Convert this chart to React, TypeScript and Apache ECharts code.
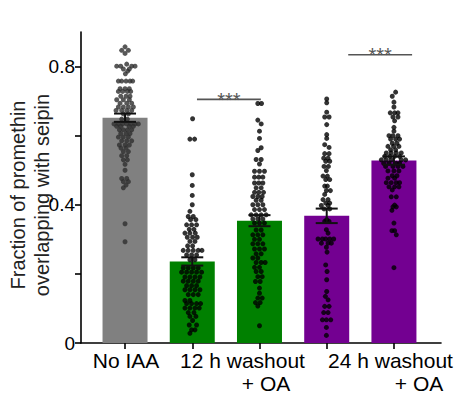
import { useEffect, useRef } from "react";
import * as echarts from "echarts";

// ---------- data ----------
const groups = ["No IAA", "12 h washout", "12 h washout + OA", "24 h washout", "24 h washout + OA"];
const barMeans = [0.652, 0.236, 0.354, 0.368, 0.528];
const barSem = [0.012, 0.012, 0.016, 0.021, 0.012];
const barColors = ["#808080", "#008000", "#008000", "#730091", "#730091"];
const dotColors = ["#2e2e2e", "#000000", "#000000", "#000000", "#000000"];

const yTickValues = [0, 0.2, 0.4, 0.6, 0.8];
const yLabelValues = [0, 0.4, 0.8];
const yTitle = "Fraction of promethin\noverlapping with seipin";
const xLabelTexts = ["No IAA", "12 h washout", "+ OA", "24 h washout", "+ OA"];

// significance brackets: [xStart, xEnd, y]
const brackets = [
  [1.07, 2.02, 0.705],
  [3.32, 4.27, 0.834],
];
const bracketText = "***";

// rows: [value, ...offsets (category units)]
const dotsNoIAA: number[][] = [
  [0.857, 0], [0.847, -0.05, 0.05], [0.838, 0], [0.807, 0.025],
  [0.801, -0.124, -0.064, 0.099, 0.149], [0.793, -0.025, 0.064], [0.787, 0.04], [0.779, 0.005],
  [0.758, -0.099, -0.05, 0.015, 0.074, 0.114], [0.736, -0.074, 0, 0.064],
  [0.728, -0.099, -0.035, 0.035, 0.084], [0.714, -0.064, 0.015, 0.074],
  [0.704, -0.124, -0.025, 0.064], [0.694, -0.074, 0.025, 0.099],
  [0.683, -0.099, -0.025, 0.05, 0.124], [0.673, -0.134, -0.05, 0.025, 0.099],
  [0.663, -0.025, 0.05], [0.648, -0.05, 0.035],
  [0.634, -0.164, -0.099, -0.035, 0.025, 0.084, 0.149, 0.198],
  [0.627, -0.124, -0.064, 0.064, 0.124], [0.617, -0.084, -0.025, 0.035, 0.099],
  [0.606, -0.064, 0.015, 0.074], [0.596, -0.099, -0.025, 0.05], [0.585, -0.05, 0.025, 0.099],
  [0.573, -0.084, 0, 0.064], [0.564, -0.06, 0.015], [0.554, -0.025, 0.05],
  [0.542, -0.05, 0.025], [0.53, -0.025, 0.035], [0.517, 0], [0.5, 0],
  [0.476, -0.05, 0.025], [0.467, -0.025, 0.05], [0.457, 0.015], [0.449, -0.025],
  [0.345, 0], [0.293, 0],
];
const dots12h: number[][] = [
  [0.649, 0.005], [0.59, -0.035, 0.035], [0.487, 0], [0.456, 0], [0.427, 0], [0.4, 0],
  [0.381, -0.035], [0.366, -0.06, 0.015], [0.357, -0.025, 0.054],
  [0.342, -0.084, -0.01, 0.064], [0.329, -0.045, 0.025], [0.318, -0.109, -0.035, 0.045],
  [0.306, -0.074, 0.005, 0.074], [0.294, -0.035, 0.04], [0.281, -0.069, 0.005],
  [0.268, -0.134, -0.06, 0.015, 0.089, 0.144], [0.255, -0.084, -0.01, 0.064],
  [0.241, -0.035, 0.04], [0.217, -0.134, -0.06, 0.015, 0.089],
  [0.205, -0.159, -0.084, -0.01, 0.064, 0.139], [0.191, -0.109, -0.035, 0.04, 0.114],
  [0.179, -0.134, -0.06, 0.015, 0.089], [0.166, -0.084, -0.01, 0.064],
  [0.154, -0.109, -0.035, 0.04, 0.114], [0.14, -0.06, 0.015, 0.089],
  [0.123, -0.109, -0.035], [0.114, -0.084, -0.01, 0.064, 0.124],
  [0.101, -0.109, -0.035, 0.04, 0.104], [0.088, -0.06, 0.025], [0.077, -0.035, 0.054],
  [0.065, 0.005], [0.052, -0.045, 0.064], [0.038, -0.01, 0.04], [0.028, -0.035],
];
const dots12hOA: number[][] = [
  [0.693, -0.025, 0.03], [0.645, -0.025], [0.634, 0.025], [0.613, 0], [0.592, 0],
  [0.565, 0.025], [0.557, -0.025], [0.531, -0.05, 0.025], [0.518, 0],
  [0.497, -0.074, 0, 0.074], [0.48, -0.074, -0.01, 0.05], [0.463, -0.074, -0.01, 0.05],
  [0.449, -0.05, 0.025], [0.436, -0.074, -0.01, 0.06], [0.424, -0.099, -0.025, 0.04],
  [0.413, -0.05, 0.025], [0.4, -0.099, -0.025, 0.05], [0.386, -0.074, 0, 0.074],
  [0.371, -0.124, -0.05, 0.025, 0.099], [0.359, -0.099, -0.025, 0.05],
  [0.347, -0.074, 0, 0.074], [0.327, -0.05, 0.025], [0.313, -0.099, -0.025, 0.05],
  [0.3, -0.074, 0], [0.287, -0.099, -0.025, 0.05], [0.272, -0.074, 0, 0.074],
  [0.258, -0.05, 0.025], [0.246, -0.099, -0.025], [0.233, -0.05, 0.025, 0.084],
  [0.219, -0.074, 0], [0.207, -0.05, 0.025], [0.192, -0.025, 0.04], [0.178, -0.06, 0.01],
  [0.159, 0], [0.144, 0], [0.13, -0.025, 0.04], [0.117, -0.06, 0.01], [0.107, -0.025],
  [0.05, 0],
];
const dots24h: number[][] = [
  [0.706, 0], [0.695, 0], [0.668, 0], [0.654, -0.03, 0.035], [0.632, 0], [0.603, 0],
  [0.592, 0], [0.574, -0.03], [0.566, 0.035], [0.548, -0.03, 0.035], [0.535, -0.045, 0.02],
  [0.526, -0.015, 0.045], [0.511, -0.04, 0.025], [0.499, -0.005], [0.483, -0.055, 0.01],
  [0.473, -0.015, 0.045], [0.454, -0.03, 0.01], [0.441, -0.005, 0.055], [0.43, -0.03],
  [0.415, -0.055, 0.02], [0.405, -0.015, 0.045], [0.398, -0.08, 0.02], [0.388, -0.04, 0.045],
  [0.357, 0], [0.352, -0.03, 0.035], [0.328, -0.005], [0.318, 0.02],
  [0.301, -0.129, -0.064, -0.015, 0.045, 0.104], [0.289, -0.079, 0.02, 0.069],
  [0.277, -0.005], [0.263, 0.005], [0.226, -0.015], [0.207, 0.005], [0.183, 0],
  [0.149, 0], [0.135, -0.02], [0.125, 0.02], [0.106, -0.03, 0.035], [0.088, -0.045, 0.02],
  [0.067, -0.064, -0.005, 0.06], [0.045, -0.005], [0.022, -0.005],
];
const dots24hOA: number[][] = [
  [0.726, 0.025], [0.714, -0.025], [0.697, 0], [0.683, 0], [0.666, -0.055, 0.01, 0.06],
  [0.654, -0.015, 0.06], [0.643, 0.01], [0.624, 0], [0.613, 0],
  [0.6, -0.074, -0.015, 0.06], [0.59, -0.05, 0.025, 0.084], [0.578, -0.025, 0.045],
  [0.569, -0.089, -0.005, 0.074], [0.559, -0.05, 0.025], [0.55, -0.114, -0.04, 0.035, 0.109],
  [0.54, -0.139, -0.064, 0.01, 0.084], [0.53, -0.188, -0.114, -0.04, 0.109, 0.174],
  [0.52, -0.153, -0.074, 0.035, 0.084], [0.511, -0.124, -0.015, 0.06, 0.134],
  [0.498, -0.089, 0, 0.074], [0.484, -0.025, 0.045], [0.477, -0.089, 0.01],
  [0.464, -0.114, -0.04, 0.035, 0.084], [0.452, -0.074, 0.01, 0.074], [0.443, -0.025],
  [0.423, -0.04, 0.035], [0.399, 0.01], [0.394, -0.015, 0.035], [0.384, -0.03],
  [0.347, 0], [0.325, -0.03, 0.01], [0.313, 0.035], [0.218, 0],
];
const allDots = [dotsNoIAA, dots12h, dots12hOA, dots24h, dots24hOA];

// ---------- layout ----------
const FONT = "'Liberation Sans', Arial, Helvetica, sans-serif";
const BAR_WIDTH = 45;
const xLabelPos = [
  [126, 360],
  [242.5, 360],
  [266, 383],
  [390.5, 360],
  [419, 383],
];

export default function App() {
  const ref = useRef<HTMLDivElement>(null);

  useEffect(() => {
    if (!ref.current) return;
    const chart = echarts.init(ref.current, undefined, { renderer: "svg" });

    const scatterSeries = allDots.map((rows, gi) => {
      const data: number[][] = [];
      rows.forEach((row) => {
        const v = row[0];
        for (let k = 1; k < row.length; k++) data.push([gi + row[k], v]);
      });
      return {
        type: "scatter",
        name: groups[gi],
        data,
        symbol: "circle",
        symbolSize: 5,
        itemStyle: { color: dotColors[gi] },
        z: 3,
        silent: true,
      };
    });

    const option: any = {
      animation: false,
      backgroundColor: "#ffffff",
      grid: { left: 81, right: 16, top: 32, bottom: 51, containLabel: false, outerBoundsMode: "none" },
      xAxis: {
        type: "value",
        min: -0.655,
        max: 4.7,
        axisLine: { show: true, onZero: false, lineStyle: { color: "#000", width: 1.6 } },
        axisTick: { show: true, customValues: [0, 1, 2, 3, 4], length: 6, lineStyle: { color: "#000", width: 1.6 } },
        axisLabel: { show: false },
        splitLine: { show: false },
      },
      yAxis: {
        type: "value",
        min: 0,
        max: 0.9,
        axisLine: { show: true, onZero: false, lineStyle: { color: "#000", width: 1.6 } },
        axisTick: { show: true, customValues: yTickValues, length: 6, lineStyle: { color: "#000", width: 1.6 } },
        axisLabel: {
          customValues: yLabelValues,
          formatter: (v: number) => (v === 0 ? "0" : String(v)),
          fontSize: 19,
          color: "#000",
          margin: 6,
          fontFamily: FONT,
        },
        splitLine: { show: false },
      },
      graphic: [
        ...xLabelTexts.map((t, i) => ({
          type: "text",
          x: xLabelPos[i][0],
          y: xLabelPos[i][1],
          style: {
            text: t,
            fontSize: 21,
            fontFamily: FONT,
            fill: "#000",
            align: "center",
            verticalAlign: "middle",
          },
        })),
        {
          type: "text",
          x: 30,
          y: 195,
          rotation: Math.PI / 2,
          style: {
            text: yTitle,
            fontSize: 20,
            lineHeight: 24,
            fontFamily: FONT,
            fill: "#222",
            align: "center",
            verticalAlign: "middle",
          },
        },
      ],
      series: [
        {
          type: "custom",
          data: barMeans.map((v, i) => [i, v]),
          z: 1,
          silent: true,
          renderItem: (p: any, api: any) => {
            const i = api.value(0);
            const top = api.coord([i, api.value(1)]);
            const base = api.coord([i, 0]);
            return {
              type: "rect",
              shape: { x: top[0] - BAR_WIDTH / 2, y: top[1], width: BAR_WIDTH, height: base[1] - top[1] },
              style: { fill: barColors[p.dataIndex] },
            };
          },
        },
        ...scatterSeries,
        {
          type: "custom",
          data: barMeans.map((m, i) => [i, m, barSem[i]]),
          z: 5,
          silent: true,
          renderItem: (_p: any, api: any) => {
            const x = api.value(0);
            const m = api.value(1);
            const s = api.value(2);
            const top = api.coord([x, m + s]);
            const bot = api.coord([x, m - s]);
            const h = 11;
            const st = { stroke: "#111", lineWidth: 2 };
            return {
              type: "group",
              children: [
                { type: "line", shape: { x1: top[0], y1: top[1], x2: bot[0], y2: bot[1] }, style: st },
                { type: "line", shape: { x1: top[0] - h, y1: top[1], x2: top[0] + h, y2: top[1] }, style: st },
                { type: "line", shape: { x1: bot[0] - h, y1: bot[1], x2: bot[0] + h, y2: bot[1] }, style: st },
              ],
            };
          },
        },
        {
          type: "custom",
          data: brackets,
          encode: { x: [0, 1], y: 2 },
          z: 6,
          silent: true,
          clip: false,
          renderItem: (_p: any, api: any) => {
            const a = api.coord([api.value(0), api.value(2)]);
            const b = api.coord([api.value(1), api.value(2)]);
            return {
              type: "group",
              children: [
                { type: "line", shape: { x1: a[0], y1: a[1], x2: b[0], y2: b[1] }, style: { stroke: "#555", lineWidth: 1.6 } },
                {
                  type: "text",
                  x: (a[0] + b[0]) / 2,
                  y: a[1] + 0.5,
                  style: {
                    text: bracketText,
                    fontSize: 20,
                    fontFamily: FONT,
                    fill: "#555",
                    align: "center",
                    verticalAlign: "middle",
                  },
                },
              ],
            };
          },
        },
      ],
    };

    chart.setOption(option);
    return () => chart.dispose();
  }, []);

  return (
    <div
      ref={ref}
      style={{ position: "absolute", left: 0, top: 0, width: 457, height: 394, background: "#fff" }}
    />
  );
}
